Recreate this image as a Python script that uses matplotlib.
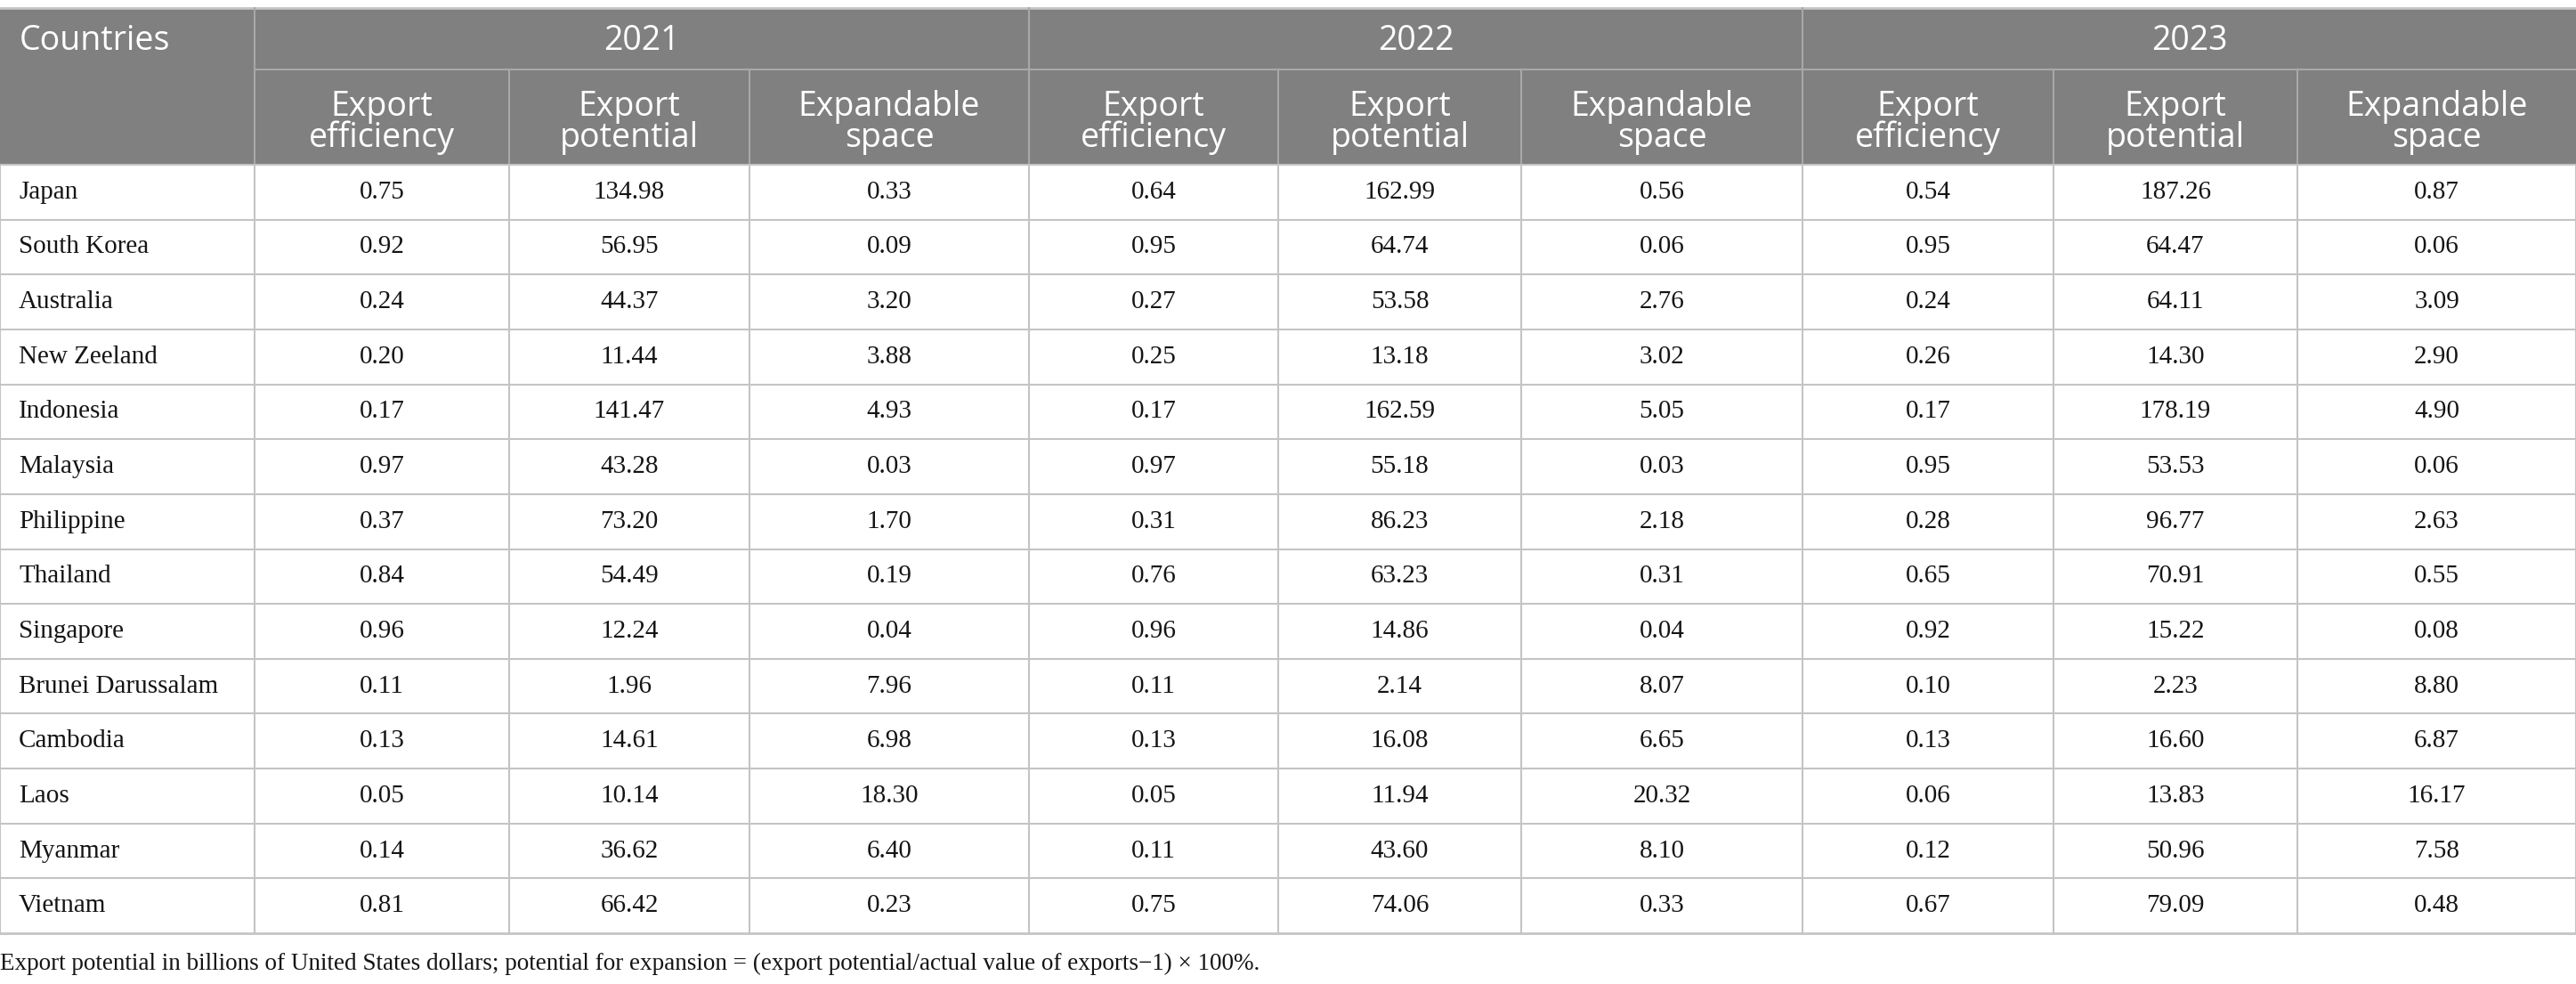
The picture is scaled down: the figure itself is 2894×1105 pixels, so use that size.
import matplotlib
matplotlib.use("Agg")
import matplotlib.pyplot as plt
from matplotlib.patches import Rectangle

countries = ["Japan", "South Korea", "Australia", "New Zeeland", "Indonesia", "Malaysia",
             "Philippine", "Thailand", "Singapore", "Brunei Darussalam", "Cambodia", "Laos",
             "Myanmar", "Vietnam"]
years = ["2021", "2022", "2023"]
measures = ["Export\nefficiency", "Export\npotential", "Expandable\nspace"]

eff_2021 = [0.75, 0.92, 0.24, 0.20, 0.17, 0.97, 0.37, 0.84, 0.96, 0.11, 0.13, 0.05, 0.14, 0.81]
pot_2021 = [134.98, 56.95, 44.37, 11.44, 141.47, 43.28, 73.20, 54.49, 12.24, 1.96, 14.61, 10.14, 36.62, 66.42]
exp_2021 = [0.33, 0.09, 3.20, 3.88, 4.93, 0.03, 1.70, 0.19, 0.04, 7.96, 6.98, 18.30, 6.40, 0.23]

eff_2022 = [0.64, 0.95, 0.27, 0.25, 0.17, 0.97, 0.31, 0.76, 0.96, 0.11, 0.13, 0.05, 0.11, 0.75]
pot_2022 = [162.99, 64.74, 53.58, 13.18, 162.59, 55.18, 86.23, 63.23, 14.86, 2.14, 16.08, 11.94, 43.60, 74.06]
exp_2022 = [0.56, 0.06, 2.76, 3.02, 5.05, 0.03, 2.18, 0.31, 0.04, 8.07, 6.65, 20.32, 8.10, 0.33]

eff_2023 = [0.54, 0.95, 0.24, 0.26, 0.17, 0.95, 0.28, 0.65, 0.92, 0.10, 0.13, 0.06, 0.12, 0.67]
pot_2023 = [187.26, 64.47, 64.11, 14.30, 178.19, 53.53, 96.77, 70.91, 15.22, 2.23, 16.60, 13.83, 50.96, 79.09]
exp_2023 = [0.87, 0.06, 3.09, 2.90, 4.90, 0.06, 2.63, 0.55, 0.08, 8.80, 6.87, 16.17, 7.58, 0.48]

footnote = ("Export potential in billions of United States dollars; potential for expansion = "
            "(export potential/actual value of exports\u22121) \u00d7 100%.")

columns = [eff_2021, pot_2021, exp_2021, eff_2022, pot_2022, exp_2022, eff_2023, pot_2023, exp_2023]

W, H = 2894, 1105
fig = plt.figure(figsize=(W / 100, H / 100), dpi=100)
ax = fig.add_axes([0, 0, 1, 1])
ax.set_xlim(0, W)
ax.set_ylim(H, 0)
ax.axis("off")

# layout (pixels)
col_edges = [0, 286, 572, 842, 1156, 1436, 1709, 2025, 2307, 2581, 2894]
top, year_bot, head_bot, tab_bot = 9, 78, 185, 1048
row_h = (tab_bot - head_bot) / len(countries)

hdr_col = "#808080"
line_col = "#c4c4c4"
hdr_font = "Open Sans"
body_font = "Liberation Serif"
txt_col = "#141414"

ax.add_patch(Rectangle((0, top), W, head_bot - top, color=hdr_col, lw=0))

# header lines
ax.plot([0, W], [top, top], color=line_col, lw=2)
ax.plot([col_edges[1], W], [year_bot, year_bot], color="#a8a8a8", lw=1.5)
for i, x in enumerate(col_edges[1:-1]):
    y0 = top if (i % 3 == 0) else year_bot
    ax.plot([x, x], [y0, head_bot], color="#a8a8a8", lw=1.5)

ax.text(22, (top + year_bot) / 2 + 2, "Countries", color="white", fontsize=27,
        family=hdr_font, ha="left", va="center")
for k, yr in enumerate(years):
    x0, x1 = col_edges[1 + 3 * k], col_edges[4 + 3 * k]
    ax.text((x0 + x1) / 2, (top + year_bot) / 2 + 3, yr, color="white", fontsize=27,
            family=hdr_font, ha="center", va="center")
for j in range(9):
    x0, x1 = col_edges[1 + j], col_edges[2 + j]
    ax.text((x0 + x1) / 2, (year_bot + head_bot) / 2 + 6, measures[j % 3], color="white",
            fontsize=27, family=hdr_font, ha="center", va="center", linespacing=0.9)

# body grid
for r in range(len(countries) + 1):
    y = head_bot + r * row_h
    ax.plot([0, W], [y, y], color=line_col, lw=2 if r == len(countries) else 1.5)
for x in col_edges:
    ax.plot([x, x], [head_bot, tab_bot], color=line_col, lw=1.5)

for r, name in enumerate(countries):
    yc = head_bot + (r + 0.5) * row_h
    ax.text(21, yc, name, fontsize=21, family=body_font, ha="left", va="center", color=txt_col)
    for j, vals in enumerate(columns):
        xc = (col_edges[1 + j] + col_edges[2 + j]) / 2
        ax.text(xc, yc, f"{vals[r]:.2f}", fontsize=21, family=body_font,
                ha="center", va="center", color=txt_col)

ax.text(0, 1082, footnote, fontsize=19.5, family=body_font, ha="left", va="center", color=txt_col)

fig.savefig("out.png", dpi=100)
